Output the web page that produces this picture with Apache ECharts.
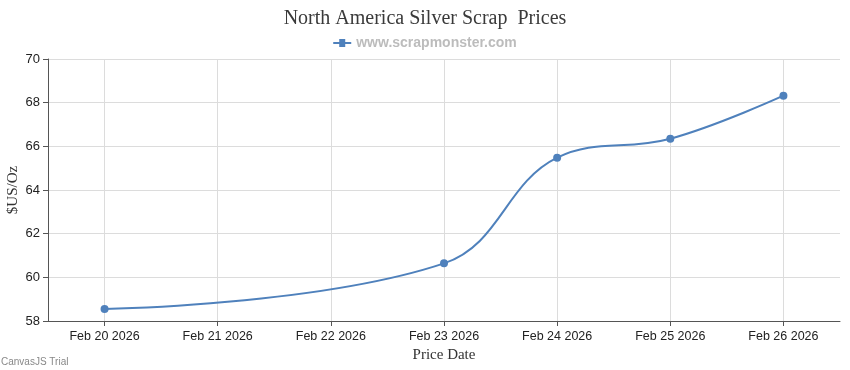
<!DOCTYPE html>
<html><head><meta charset="utf-8">
<script src="https://cdn.jsdelivr.net/npm/echarts@6/dist/echarts.min.js"></script>
<style>html,body{margin:0;padding:0;background:#fff}#c{width:850px;height:370px}</style>
</head><body><div id="c"></div>
<script>
const tickLabels = ['Feb 20 2026','Feb 21 2026','Feb 22 2026','Feb 23 2026','Feb 24 2026','Feb 25 2026','Feb 26 2026'];
const pointDays = ['Feb 20 2026','Feb 23 2026','Feb 24 2026','Feb 25 2026','Feb 26 2026'];
const prices = [58.55, 60.64, 65.48, 66.35, 68.32];
const yTicks = [58, 60, 62, 64, 66, 68, 70];

const seriesData = pointDays.map((d, i) => [tickLabels.indexOf(d), prices[i]]);
const tickIdx = tickLabels.map((_, i) => i);

const chart = echarts.init(document.getElementById('c'), null, {renderer: 'canvas'});
chart.setOption({
  animation: false,
  backgroundColor: '#fff',
  title: {
    text: 'North America Silver Scrap  Prices',
    left: 'center', top: 4,
    textStyle: {fontFamily: 'Liberation Serif', fontSize: 20, fontWeight: 'normal', color: '#3a3a3a'}
  },
  legend: {
    top: 31, left: 'center',
    itemWidth: 18, itemHeight: 10, itemGap: 6,
    textStyle: {fontFamily: 'Liberation Sans', fontSize: 14, fontWeight: 'bold', color: '#bcbcbc'},
    data: [{name: 'www.scrapmonster.com', icon: 'path://M0,4 L6,4 L6,1 L12,1 L12,4 L18,4 L18,6 L12,6 L12,9 L6,9 L6,6 L0,6 Z'}]
  },
  grid: {left: 48, right: 10, top: 59, bottom: 49, containLabel: false, outerBoundsMode: 'none'},
  xAxis: {
    type: 'value', min: -0.5, max: 6.5,
    name: 'Price Date', nameLocation: 'middle', nameGap: 27, nameMoveOverlap: false,
    nameTextStyle: {fontFamily: 'Liberation Serif', fontSize: 15, color: '#333'},
    axisLine: {show: true, onZero: false, lineStyle: {color: '#555', width: 1}},
    axisTick: {show: true, length: 5, customValues: tickIdx, lineStyle: {color: '#555'}},
    axisLabel: {customValues: tickIdx, formatter: v => tickLabels[Math.round(v)] || '', fontFamily: 'Liberation Sans', fontSize: 12.5, color: '#222', margin: 9},
    splitLine: {show: true, customValues: tickIdx, lineStyle: {color: '#dcdcdc', width: 1}}
  },
  yAxis: {
    type: 'value', min: yTicks[0], max: yTicks[yTicks.length-1], interval: 2,
    name: '$US/Oz', nameLocation: 'middle', nameGap: 27, nameMoveOverlap: false,
    nameTextStyle: {fontFamily: 'Liberation Serif', fontSize: 15, color: '#333'},
    axisLine: {show: true, onZero: false, lineStyle: {color: '#555', width: 1}},
    axisTick: {show: true, length: 5, lineStyle: {color: '#555'}},
    axisLabel: {fontFamily: 'Liberation Sans', fontSize: 13, color: '#222', margin: 8},
    splitLine: {show: true, lineStyle: {color: '#dcdcdc', width: 1}}
  },
  series: [{
    name: 'www.scrapmonster.com',
    type: 'line', smooth: 0.4,
    data: seriesData,
    symbol: 'circle', symbolSize: 8,
    itemStyle: {color: '#4f81bc'},
    lineStyle: {color: '#4f81bc', width: 2}
  }],
  graphic: [{
    type: 'text', left: 1, top: 357,
    style: {text: 'CanvasJS Trial', fontFamily: 'Liberation Sans', fontSize: 10, fill: '#888'}
  }]
});
</script></body></html>
